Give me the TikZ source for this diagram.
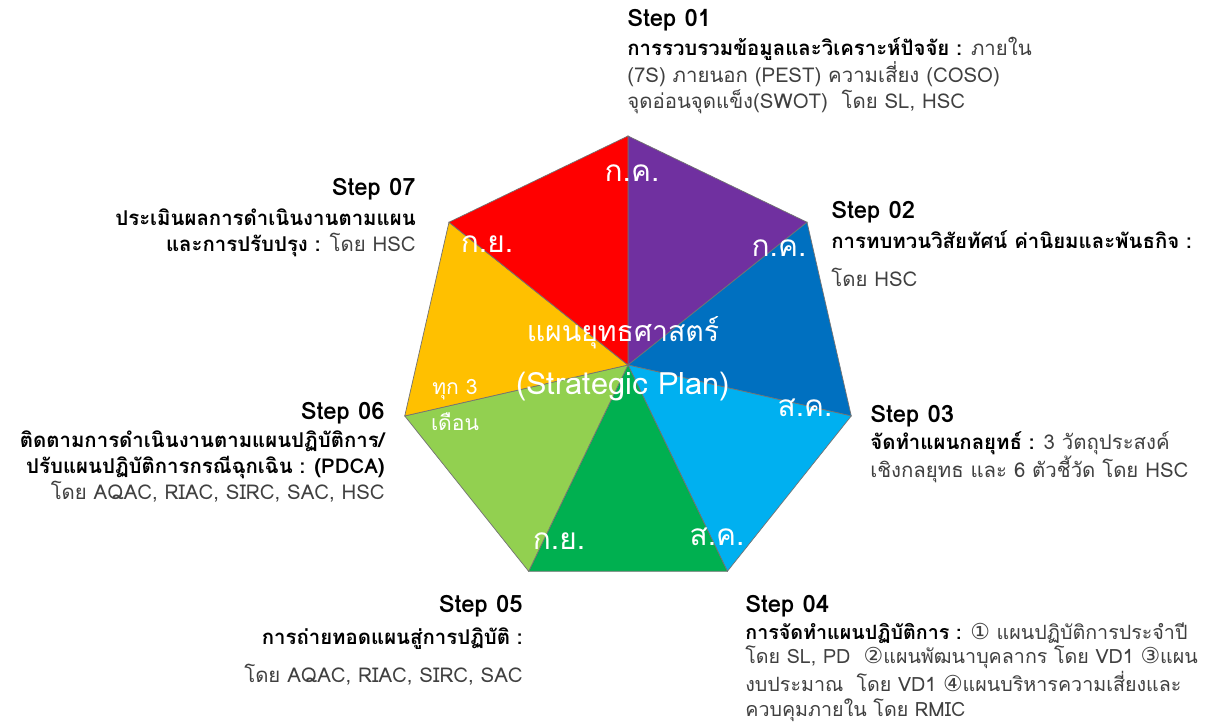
\documentclass[tikz,border=0pt]{standalone}
\usepackage{fontspec}
\newfontfamily\thaifont[Script=Thai]{Loma}
\newfontfamily\symfont{DejaVu Sans}
\usetikzlibrary{calc}

\definecolor{segpurple}{HTML}{7030A0}
\definecolor{segblue}{HTML}{0070C0}
\definecolor{segsky}{HTML}{00B0F0}
\definecolor{seggreen}{HTML}{00B050}
\definecolor{seglime}{HTML}{92D050}
\definecolor{segamber}{HTML}{FFC000}
\definecolor{segred}{HTML}{FF0000}
\definecolor{bodygray}{HTML}{404040}

\newcommand{\circnum}[1]{{\symfont\fontsize{12.5}{14}\selectfont #1}}

\tikzset{
  steptitle/.style={font=\thaifont\bfseries\fontsize{13.6}{15}\selectfont, inner sep=0pt, text=black},
  stepbody/.style={font=\thaifont\fontsize{11.6}{15}\selectfont, inner sep=0pt, text=bodygray},
  monthlabel/.style={font=\thaifont\fontsize{17}{20}\selectfont, inner sep=0pt, text=white},
  segline/.style={draw=black!55, line width=0.4pt}
}

\begin{document}
\begin{tikzpicture}[x=0.02cm, y=-0.02cm]
  \fill[white] (0,0) rectangle (1225,724);
  \useasboundingbox (0,0) rectangle (1225,724);

  % heptagon
  \coordinate (c) at (628,365);
  \foreach \k in {0,...,6}
    \coordinate (v\k) at ($(c)+({-90+\k*360/7}:229)$);

  \foreach \k/\col in {0/segpurple, 1/segblue, 2/segsky, 3/seggreen, 4/seglime, 5/segamber, 6/segred}{
    \pgfmathtruncatemacro{\n}{mod(\k+1,7)}
    \filldraw[fill=\col, segline] (c) -- (v\k) -- (v\n) -- cycle;
  }

  % months
  \node[monthlabel] (m1) at (632,173) {ก.ค.};
  \node[monthlabel] (m2) at (779,248) {ก.ค.};
  \node[monthlabel] (m3) at (805,408) {ส.ค.};
  \node[monthlabel] (m4) at (717,537) {ส.ค.};
  \node[monthlabel] (m5) at (559,541) {ก.ย.};
  \node[monthlabel, font=\thaifont\fontsize{12}{21}\selectfont, align=center] (m6) at (455,405) {ทุก 3\\เดือน};
  \node[monthlabel] (m7) at (487,244) {ก.ย.};

  \node[monthlabel, font=\thaifont\fontsize{16.2}{20}\selectfont] (planth) at (623,333) {แผนยุทธศาสตร์};
  \node[monthlabel, font=\thaifont\fontsize{17.5}{20}\selectfont] (planen) at (623,387) {(Strategic Plan)};

  % steps
  \node[steptitle, anchor=west] (t1) at (627,20) {Step 01};
  \node[stepbody, anchor=north west, align=left] (b1) at (627,37)
    {\textbf{\color{black}การรวบรวมข้อมูลและวิเคราะห์ปัจจัย :} ภายใน\\
     (7S) ภายนอก (PEST) ความเสี่ยง (COSO)\\
     จุดอ่อนจุดแข็ง(SWOT)\ \ โดย SL, HSC};

  \node[steptitle, anchor=west] (t2) at (831,212) {Step 02};
  \node[stepbody, anchor=north west, align=left] (b2) at (831,230)
    {\textbf{\color{black}การทบทวนวิสัยทัศน์ ค่านิยมและพันธกิจ :}\\[7pt]
     โดย HSC};

  \node[steptitle, anchor=west] (t3) at (870,416) {Step 03};
  \node[stepbody, anchor=north west, align=left] (b3) at (870,431)
    {\textbf{\color{black}จัดทำแผนกลยุทธ์ :} 3 วัตถุประสงค์\\
     เชิงกลยุทธ และ 6 ตัวชี้วัด โดย HSC};

  \node[steptitle, anchor=west] (t4) at (745,606) {Step 04};
  \node[stepbody, font=\thaifont\fontsize{11.2}{14.2}\selectfont, anchor=north west, align=left] (b4) at (745,622)
    {\textbf{\color{black}การจัดทำแผนปฏิบัติการ :} \circnum{①} แผนปฏิบัติการประจำปี\\
     โดย SL, PD\ \ \circnum{②}แผนพัฒนาบุคลากร โดย VD1 \circnum{③}แผน\\
     งบประมาณ\ \ โดย VD1 \circnum{④}แผนบริหารความเสี่ยงและ\\
     ควบคุมภายใน โดย RMIC};

  \node[steptitle, anchor=east] (t5) at (523,606) {Step 05};
  \node[stepbody, anchor=north east, align=right] (b5) at (523,627)
    {\textbf{\color{black}การถ่ายทอดแผนสู่การปฏิบัติ :}\\[7pt]
     โดย AQAC, RIAC, SIRC, SAC};

  \node[steptitle, anchor=east] (t6) at (385,413) {Step 06};
  \node[stepbody, anchor=north east, align=right] (b6) at (385,430)
    {\textbf{\color{black}ติดตามการดำเนินงานตามแผนปฏิบัติการ/}\\
     \textbf{\color{black}ปรับแผนปฏิบัติการกรณีฉุกเฉิน : (PDCA)}\\
     โดย AQAC, RIAC, SIRC, SAC, HSC};

  \node[steptitle, anchor=east] (t7) at (416,189) {Step 07};
  \node[stepbody, anchor=north east, align=right] (b7) at (416,208)
    {\textbf{\color{black}ประเมินผลการดำเนินงานตามแผน}\\
     \textbf{\color{black}และการปรับปรุง :} โดย HSC};
\end{tikzpicture}
\end{document}
